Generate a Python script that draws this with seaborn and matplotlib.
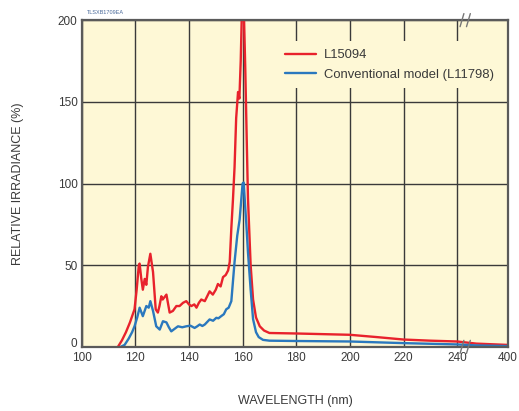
import numpy as np
import pandas as pd
import matplotlib
matplotlib.use("Agg")
import matplotlib.pyplot as plt
import matplotlib.transforms as mtransforms
import seaborn as sns

# ---- data ----
red_wl = [113.5, 115.0, 116.5, 118.0, 119.7, 120.5, 121.3, 121.6, 122.2, 122.8, 123.5, 124.1, 124.7,
          125.6, 126.6, 127.6, 128.4, 129.0, 129.7, 130.2, 131.6, 132.8, 134.0, 135.3, 136.5, 137.8,
          139.0, 140.0, 140.9, 142.0, 142.8, 143.7, 144.6, 145.9, 146.8, 147.7, 148.9, 150.0, 150.8,
          151.8, 152.7, 153.7, 154.6, 155.2, 155.8, 156.4, 157.0, 157.6, 158.3, 158.8, 159.3, 159.8,
          160.4, 161.0, 161.5, 162.0, 163.0, 163.9, 165.0, 166.4, 168, 170, 180, 190, 200, 210, 220,
          230, 240, 300, 400]
red_val = [0, 4, 9, 15, 23, 35, 50, 51, 42, 35, 41.6, 38, 49,
           57, 45.8, 23, 21, 25, 31, 29, 32, 21, 22, 25, 25, 27,
           28, 26, 25, 26, 24, 27, 29, 28, 31, 34, 32, 35, 38.5,
           37, 42.7, 44, 46.8, 52, 72.7, 90, 110, 140, 156, 152, 175, 210,
           210, 170, 130, 91, 50, 29, 18, 12.6, 10, 8.5, 8.2, 7.8, 7.4, 6.0, 4.5,
           3.8, 3.3, 2.0, 1.2]

blue_wl = [114.5, 116.0, 117.5, 118.8, 119.7, 120.7, 121.6, 122.8, 124.1, 125.0, 125.6, 126.6, 127.8,
           129.1, 130.3, 131.6, 132.5, 133.4, 134.6, 135.9, 137.5, 139.0, 140.5, 142.1, 143.0, 144.0,
           145.0, 145.9, 147.7, 149.0, 150.2, 151.0, 152.0, 153.0, 153.9, 154.8, 155.8, 157.0, 158.0,
           158.9, 159.5, 160.0, 160.4, 161.0, 161.4, 162.0, 163.0, 163.9, 165.0, 166.0, 167.6, 170,
           180, 200, 220, 240, 300, 400]
blue_val = [0, 1.2, 5, 9, 12.6, 18, 24, 18.8, 25, 24, 28, 22, 12.6,
            10.6, 15.7, 15, 12, 9.5, 11, 12.6, 12, 12.6, 13, 11.6, 12.5, 13.7,
            12.8, 13.7, 16.8, 16, 17.8, 17.5, 18.8, 20, 23, 24, 28, 52, 68,
            78, 90, 100, 100.6, 85, 75, 58, 35, 17, 9, 6, 4.3, 3.8,
            3.6, 3.3, 2.3, 1.5, 0.9, 0.5]

series_names = ["L15094", "Conventional model (L11798)"]
series_colors = ["#E8222C", "#2A78BE"]
x_ticks = [100, 120, 140, 160, 180, 200, 220, 240, 400]
y_ticks = [0, 50, 100, 150, 200]

df = pd.concat([
    pd.DataFrame({"wl": red_wl, "val": red_val, "series": series_names[0]}),
    pd.DataFrame({"wl": blue_wl, "val": blue_val, "series": series_names[1]}),
], ignore_index=True)

sns.set_theme(style="white")
plt.rcParams["font.family"] = ["Liberation Sans", "DejaVu Sans"]

fig = plt.figure(figsize=(5.19, 4.11), dpi=100)
ax = fig.add_axes([0.1574, 0.156, 0.979 - 0.1574, 0.951 - 0.156])
ax.set_facecolor("#FEF8D6")

sns.lineplot(data=df, x="wl", y="val", hue="series", palette=dict(zip(series_names, series_colors)),
             linewidth=1.7, ax=ax, sort=True, estimator=None)

# broken x axis: 240..400 compressed
def fwd(x):
    x = np.asarray(x, dtype=float)
    return np.where(x <= 240, x, 240 + (x - 240) * 19.0 / 160.0)

def inv(x):
    x = np.asarray(x, dtype=float)
    return np.where(x <= 240, x, 240 + (x - 240) * 160.0 / 19.0)

ax.set_xscale("function", functions=(fwd, inv))
ax.set_xlim(100, 400)
ax.set_ylim(0, 200)
ax.set_xticks(x_ticks)
ax.set_xticklabels([str(t) for t in x_ticks])
ax.set_yticks(y_ticks)
ax.set_yticklabels([str(t) for t in y_ticks])
ax.tick_params(axis="both", length=0, labelsize=8.5, labelcolor="#3a3a3a")
ax.tick_params(axis="x", pad=4)
ax.tick_params(axis="y", pad=3)
# lift the "0" label slightly, as in the reference
zero_lbl = ax.get_yticklabels()[0]
zero_lbl.set_transform(zero_lbl.get_transform() +
                       mtransforms.ScaledTranslation(0, 4 / 100, fig.dpi_scale_trans))

ax.grid(True, color="#3a3a3a", linewidth=1.0)
ax.set_axisbelow(True)
for s in ax.spines.values():
    s.set_color("#5a5a5a")
    s.set_linewidth(1.6)

ax.set_xlabel("WAVELENGTH (nm)", fontsize=9, color="#3a3a3a", labelpad=22)
ax.set_ylabel("RELATIVE IRRADIANCE (%)", fontsize=9, color="#3a3a3a", labelpad=24)

leg = ax.legend(loc="upper right", bbox_to_anchor=(1.0, 0.955), fontsize=9.4, frameon=True,
                facecolor="#FEF8D6", edgecolor="none", framealpha=1, handlelength=2.4,
                handletextpad=0.6, labelspacing=0.55, borderpad=0.6)
for t in leg.get_texts():
    t.set_color("#3a3a3a")

# break marks near 240 on top and bottom axes
trans = ax.get_xaxis_transform()
for yy in (0.0, 1.0):
    for dx in (-1.2, 1.2):
        xc = 240 + (3.0 + dx) * 160.0 / 19.0
        ax.plot([xc - 6, xc + 6], [yy - 0.02, yy + 0.02], transform=trans, color="#777777",
                linewidth=1.0, clip_on=False, zorder=5)

fig.text(0.167, 0.967, "TLSXB1709EA", fontsize=4, color="#4a6a9a")

fig.savefig("out.png", dpi=100, facecolor="white")
